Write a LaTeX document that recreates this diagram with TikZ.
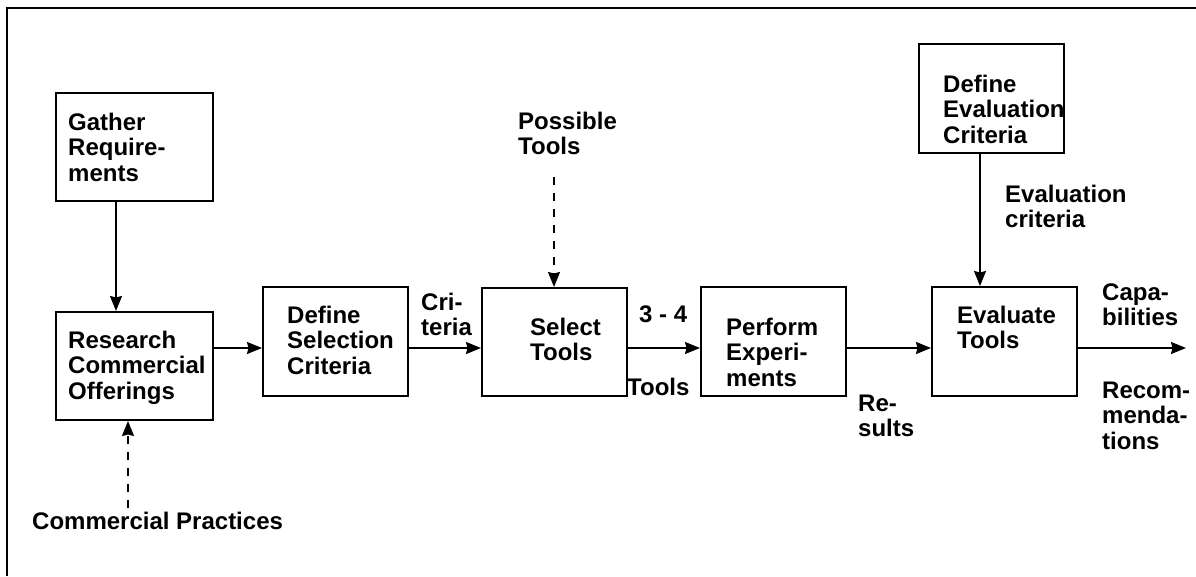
\documentclass[tikz,border=0pt]{standalone}
\usepackage{fontspec}
\setmainfont{Liberation Sans}
\usetikzlibrary{arrows.meta}
\newcommand\mlines[1]{\begin{tabular}[t]{@{}l@{}}#1\end{tabular}}
\begin{document}
\begin{tikzpicture}[x=1pt,y=-1pt,
  box/.style={draw=black,line width=2pt,rectangle,inner sep=0pt},
  txt/.style={inner sep=0pt,anchor=base west,font=\fontsize{24}{25.8}\selectfont\bfseries},
  flowarrow/.style={draw=black,line width=1.7pt,-{Stealth[length=15pt,width=12pt,inset=1.5pt]}},
  dasharrow/.style={flowarrow,dash pattern=on 8pt off 8pt}]
\useasboundingbox (0,0) rectangle (1196,576);
% outer frame
\draw[line width=2pt] (7,576) -- (7,8) -- (1196,8);

% process boxes
\node[box,minimum width=157pt,minimum height=108pt] (gather)   at (134.5,147) {};
\node[box,minimum width=157pt,minimum height=108pt] (research) at (134.5,366) {};
\node[box,minimum width=145pt,minimum height=109pt] (defsel)   at (335.5,341.5) {};
\node[box,minimum width=145pt,minimum height=108pt] (select)   at (554.5,342) {};
\node[box,minimum width=145pt,minimum height=109pt] (perform)  at (773.5,341.5) {};
\node[box,minimum width=145pt,minimum height=109pt] (evaluate) at (1004.5,341.5) {};
\node[box,minimum width=145pt,minimum height=109pt] (defeval)  at (991.5,98.5) {};

% box texts
\node[txt] (gatherT)   at (68,130)  {\mlines{Gather\\Require-\\ments}};
\node[txt] (researchT) at (68,348)  {\mlines{Research\\Commercial\\Offerings}};
\node[txt] (defselT)   at (287,323) {\mlines{Define\\Selection\\Criteria}};
\node[txt] (selectT)   at (530,335) {\mlines{Select\\Tools}};
\node[txt] (performT)  at (726,335) {\mlines{Perform\\Experi-\\ments}};
\node[txt] (evaluateT) at (957,323) {\mlines{Evaluate\\Tools}};
\node[txt] (defevalT)  at (943,92)  {\mlines{Define\\Evaluation\\Criteria}};

% free labels
\node[txt] (cpL)    at (32,529)   {Commercial Practices};
\node[txt] (ptL)    at (518,129)  {\mlines{Possible\\Tools}};
\node[txt] (critL)  at (421,310)  {\mlines{Cri-\\teria}};
\node[txt] (numL)   at (639,322)  {3 - 4};
\node[txt] (toolsL) at (627,395)  {Tools};
\node[txt] (resL)   at (858,411)  {\mlines{Re-\\sults}};
\node[txt] (ecL)    at (1005,202) {\mlines{Evaluation\\criteria}};
\node[txt] (capL)   at (1102,300) {\mlines{Capa-\\bilities}};
\node[txt] (recL)   at (1102,398) {\mlines{Recom-\\menda-\\tions}};

% helper coordinates
\coordinate (flow) at (0,348);
\coordinate (gx) at (116,0);
\coordinate (ex) at (980,0);
\coordinate (cpTop) at (128,508);
\coordinate (ptBot) at (554,177);
\coordinate (outEnd) at (1186,348);

% connectors
\draw[flowarrow] (gather.south -| gx) -- (research.north -| gx);
\draw[flowarrow] (research.east |- flow) -- (defsel.west |- flow);
\draw[flowarrow] (defsel.east |- flow) -- (select.west |- flow);
\draw[flowarrow] (select.east |- flow) -- (perform.west |- flow);
\draw[flowarrow] (perform.east |- flow) -- (evaluate.west |- flow);
\draw[flowarrow] (evaluate.east |- flow) -- (outEnd);
\draw[flowarrow] (defeval.south -| ex) -- (evaluate.north -| ex);
\draw[dasharrow] (cpTop) -- (research.south -| cpTop);
\draw[dasharrow] (ptBot) -- (select.north -| ptBot);
\end{tikzpicture}
\end{document}
